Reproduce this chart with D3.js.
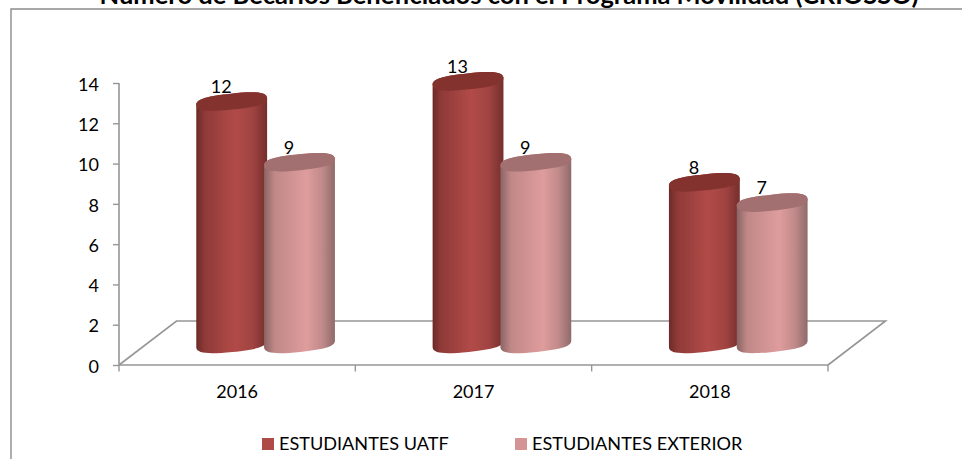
<!DOCTYPE html>
<html><head><meta charset="utf-8">
<script src="https://cdn.jsdelivr.net/npm/d3@7/dist/d3.min.js"></script>
<style>html,body{margin:0;padding:0;background:#fff;overflow:hidden}svg{display:block}text{font-family:Lato,"Open Sans",sans-serif;fill:#000}</style>
</head><body><div id="c"></div>
<script>
const categories = ["2016","2017","2018"];
const seriesNames = ["ESTUDIANTES UATF","ESTUDIANTES EXTERIOR"];
const uatf = [12,13,8];
const exterior = [9,9,7];
const yTicks = [0,2,4,6,8,10,12,14];
const titleText = "Numero de Becarios Beneficiados con el Programa Movilidad (CRIOSSO)";

const W=962,H=459;
const svg=d3.select("#c").append("svg").attr("width",W).attr("height",H);
const defs=svg.append("defs");
const grad=(id,stops)=>{const g=defs.append("linearGradient").attr("id",id).attr("x1",0).attr("x2",1).attr("y1",0).attr("y2",0);
 stops.forEach(s=>g.append("stop").attr("offset",s[0]).attr("stop-color",s[1]));};
grad("gRed",[[0,"#6c2a28"],[0.12,"#8f3a38"],[0.55,"#b14b48"],[0.8,"#a04341"],[1,"#752e2c"]]);
grad("gPink",[[0,"#8a6464"],[0.15,"#c18888"],[0.6,"#df9c9d"],[0.82,"#c18a8a"],[1,"#8f6a6a"]]);
const blur=defs.append("filter").attr("id","soft").attr("x","-5%").attr("y","-5%").attr("width","110%").attr("height","110%");
blur.append("feGaussianBlur").attr("stdDeviation",0.45);

const frame="#8c8c8c";
svg.append("path").attr("d",`M11 ${H}V9H${W}`).attr("fill","none").attr("stroke",frame).attr("stroke-width",1.4);

svg.append("text").attr("x",509).attr("y",3.5).attr("text-anchor","middle").attr("font-weight",700).attr("font-size",25.5).text(titleText);

const y=d3.scaleLinear().domain([0,14]).range([365,83]);
const barY=d3.scaleLinear().domain([0,14]).range([344,61.2]);
const x=d3.scaleBand().domain(categories).range([119,828]);
const axisCol="#969696";
const floorD=57.5, floorH=44;
const floor=svg.append("g").attr("fill","none").attr("stroke",axisCol).attr("stroke-width",1.6);
floor.append("path").attr("d",`M${x.range()[0]} ${y(0)}L${x.range()[0]+floorD} ${y(0)-floorH}H${x.range()[1]+floorD}L${x.range()[1]} ${y(0)}`);

const gy=svg.append("g").attr("transform","translate(119,0)").call(d3.axisLeft(y).tickValues(yTicks).tickSize(6).tickPadding(14));
const gx=svg.append("g").attr("transform",`translate(0,${y(0)})`).call(d3.axisBottom(x).tickSize(0).tickPadding(20.5));
[gy,gx].forEach(g=>{g.selectAll("path.domain").attr("stroke",axisCol).attr("stroke-width",1.6);
 g.selectAll("line").attr("stroke",axisCol).attr("stroke-width",1.4);
 g.selectAll("text").attr("font-size",18).attr("font-family",null);});
gy.selectAll("text").attr("dy","0.62em").attr("y",-4);
gy.select("path.domain").attr("d",`M0 ${y(14)}V${y(0)}`);
gx.select("path.domain").attr("d",`M${x.range()[0]} 0H${x.range()[1]}`);
const edges=[...categories.map(c=>x(c)),x.range()[1]];
gx.selectAll("line.edge").data(edges).enter().append("line").attr("class","edge").attr("x1",d=>d).attr("x2",d=>d).attr("y1",0).attr("y2",6.5).attr("stroke",axisCol).attr("stroke-width",1.4);

// cylinders: caps are slightly fuller than true ellipses, tilted
const rx=35.6,ry=8,ang=-5.8*Math.PI/180,k=0.82;
const rot=(cx,cy,a,b)=>[cx+a*Math.cos(ang)-b*Math.sin(ang),cy+a*Math.sin(ang)+b*Math.cos(ang)];
const pt=p=>p[0].toFixed(2)+" "+p[1].toFixed(2);
const kx=0.62;
const halfDown=(cx,cy)=>`C${pt(rot(cx,cy,-rx,ry*k))} ${pt(rot(cx,cy,-rx*kx,ry))} ${pt(rot(cx,cy,0,ry))}C${pt(rot(cx,cy,rx*kx,ry))} ${pt(rot(cx,cy,rx,ry*k))} ${pt(rot(cx,cy,rx,0))}`;
const halfUp=(cx,cy)=>`C${pt(rot(cx,cy,rx,-ry*k))} ${pt(rot(cx,cy,rx*kx,-ry))} ${pt(rot(cx,cy,0,-ry))}C${pt(rot(cx,cy,-rx*kx,-ry))} ${pt(rot(cx,cy,-rx,-ry*k))} ${pt(rot(cx,cy,-rx,0))}`;
const offsets=[112.7,180.5];
const fills=["url(#gRed)","url(#gPink)"],tops=["#84322f","#a26f6f"];
const data=[];
categories.forEach((c,i)=>{[uatf[i],exterior[i]].forEach((v,s)=>data.push({c,v,s}));});
const bars=svg.append("g").selectAll("g").data(data).enter().append("g").attr("filter","url(#soft)");
bars.append("path").attr("fill",d=>fills[d.s]).attr("d",d=>{
 const cx=x(d.c)+offsets[d.s],b=barY(0),t=barY(d.v);
 return `M${pt(rot(cx,t,-rx,0))}L${pt(rot(cx,b,-rx,0))}${halfDown(cx,b)}L${pt(rot(cx,t,rx,0))}${halfUp(cx,t)}Z`;});
bars.append("path").attr("fill",d=>tops[d.s]).attr("d",d=>{
 const cx=x(d.c)+offsets[d.s],t=barY(d.v);
 return `M${pt(rot(cx,t,-rx,0))}${halfDown(cx,t)}${halfUp(cx,t)}Z`;});
svg.append("g").selectAll("text").data(data).enter().append("text")
 .attr("x",d=>x(d.c)+offsets[d.s]-10.5).attr("y",d=>barY(d.v)-8.5).attr("text-anchor","middle").attr("font-size",18).text(d=>d.v);

const legend=svg.append("g");
const lx=[262,515],ly=444;
seriesNames.forEach((n,i)=>{
 legend.append("rect").attr("x",lx[i]).attr("y",ly-6).attr("width",12).attr("height",12).attr("fill",["#ae4a47","#d49394"][i]);
 legend.append("text").attr("x",lx[i]+17).attr("y",ly+5.5).attr("font-size",18.1).text(n);
});
</script></body></html>
